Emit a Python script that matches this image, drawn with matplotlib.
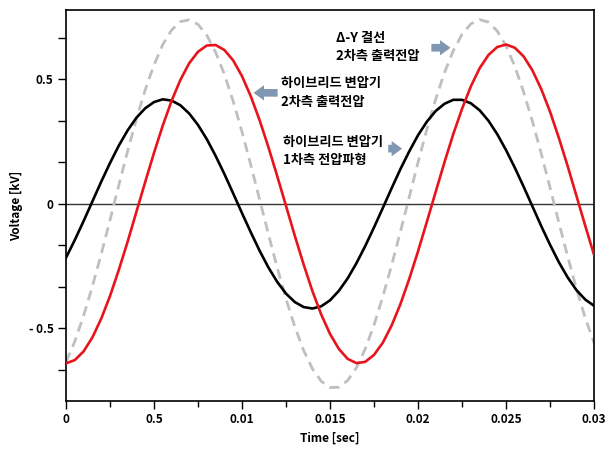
import numpy as np
import matplotlib
matplotlib.use("Agg")
import matplotlib.pyplot as plt

plt.rcParams['font.family'] = ['Noto Sans CJK KR', 'DejaVu Sans']

# 시간축 (0 ~ 0.03 s, 0.0005 s 간격)
tiempo = np.linspace(0, 0.03, 61)

# 하이브리드 변압기 1차측 전압파형 (검정)
v_primario = [-0.216, -0.145, -0.069, 0.010, 0.089, 0.164, 0.234, 0.295, 0.346, 0.384,
              0.409, 0.420, 0.415, 0.396, 0.363, 0.317, 0.260, 0.193, 0.120, 0.042,
              -0.037, -0.114, -0.188, -0.255, -0.313, -0.360, -0.394, -0.414, -0.420, -0.411,
              -0.387, -0.349, -0.299, -0.238, -0.169, -0.094, -0.016, 0.063, 0.140, 0.211,
              0.276, 0.330, 0.373, 0.402, 0.418, 0.418, 0.404, 0.376, 0.334, 0.280,
              0.216, 0.145, 0.069, -0.010, -0.089, -0.164, -0.234, -0.295, -0.346, -0.384,
              -0.409]

# 하이브리드 변압기 2차측 출력전압 (빨강)
v_hibrido = [-0.640, -0.627, -0.592, -0.536, -0.461, -0.370, -0.265, -0.152, -0.032, 0.088,
             0.205, 0.315, 0.414, 0.498, 0.565, 0.611, 0.636, 0.638, 0.618, 0.576,
             0.513, 0.432, 0.336, 0.228, 0.112, -0.008, -0.128, -0.243, -0.350, -0.444,
             -0.522, -0.582, -0.622, -0.639, -0.634, -0.606, -0.557, -0.488, -0.402, -0.301,
             -0.190, -0.072, 0.048, 0.167, 0.280, 0.382, 0.472, 0.545, 0.598, 0.630,
             0.640, 0.627, 0.592, 0.536, 0.461, 0.370, 0.265, 0.152, 0.032, -0.088,
             -0.205]

# Δ-Y 결선 2차측 출력전압 (회색 점선)
v_delta_y = [-0.634, -0.552, -0.449, -0.331, -0.202, -0.065, 0.075, 0.211, 0.341, 0.458,
             0.558, 0.640, 0.698, 0.732, 0.739, 0.721, 0.677, 0.609, 0.520, 0.412,
             0.289, 0.156, 0.018, -0.121, -0.256, -0.381, -0.493, -0.588, -0.662, -0.712,
             -0.737, -0.736, -0.709, -0.657, -0.582, -0.486, -0.372, -0.246, -0.111, 0.028,
             0.167, 0.299, 0.420, 0.527, 0.615, 0.681, 0.723, 0.740, 0.730, 0.694,
             0.634, 0.552, 0.449, 0.331, 0.202, 0.065, -0.075, -0.211, -0.341, -0.458,
             -0.558]

x_ticks = [0, 0.005, 0.01, 0.015, 0.02, 0.025, 0.03]
x_labels = ["0", "0.5", "0.01", "0.015", "0.02", "0.025", "0.03"]
y_ticks = [-4/6, -3/6, -2/6, -1/6, 0, 1/6, 2/6, 3/6, 4/6]
y_labels = ["", "- 0.5", "", "", "0", "", "", "0.5", ""]

fig = plt.figure(figsize=(6.07, 4.5), dpi=100)
ax = fig.add_axes([0.1087, 0.109, 0.87, 0.869])

ax.axhline(0, color='#333333', lw=1.0, zorder=1)
ax.plot(tiempo, v_delta_y, color='#bfbfbf', lw=2.0, dashes=(3.6, 2.3), zorder=2)
ax.plot(tiempo, v_primario, color='black', lw=1.9, zorder=3)
ax.plot(tiempo, v_hibrido, color='#e8141b', lw=1.9, zorder=4)

ax.set_xlim(0, 0.03)
ax.set_ylim(-0.791, 0.779)

ax.set_xticks(x_ticks)
ax.set_xticklabels(x_labels)
ax.set_xticks([0.0025, 0.0075, 0.0125, 0.0175, 0.0225, 0.0275], minor=True)
ax.set_yticks(y_ticks)
ax.set_yticklabels(y_labels)
ax.tick_params(axis='both', which='major', direction='out', length=6, width=1.0,
               labelsize=8.5, pad=3)
ax.tick_params(axis='x', which='minor', direction='out', length=4, width=1.0)
for lbl in ax.get_xticklabels() + ax.get_yticklabels():
    lbl.set_fontweight('bold')

for sp in ax.spines.values():
    sp.set_linewidth(1.2)
    sp.set_color('black')

ax.set_xlabel("Time [sec]", fontsize=8.5, fontweight='bold', labelpad=4)
ax.set_ylabel("Voltage [kV]", fontsize=8.5, fontweight='bold', labelpad=4)

# 주석 (텍스트 + 화살표)
flecha = dict(arrowstyle='simple,head_width=1.1,head_length=0.75,tail_width=0.55',
              fc='#7f97b2', ec='none')
texto = dict(fontsize=9.5, fontweight='bold', va='center', ha='left', linespacing=1.4)

ax.text(0.01220, 0.447, "하이브리드 변압기\n2차측 출력전압", **texto)
ax.annotate('', xy=(0.01050, 0.446), xytext=(0.01218, 0.446), arrowprops=flecha)

ax.text(0.01232, 0.213, "하이브리드 변압기\n1차측 전압파형", **texto)
ax.annotate('', xy=(0.01925, 0.222), xytext=(0.01815, 0.222), arrowprops=flecha)

ax.text(0.01535, 0.63, "Δ-Y 결선\n2차측 출력전압", **texto)
ax.annotate('', xy=(0.02200, 0.627), xytext=(0.02060, 0.627), arrowprops=flecha)

fig.savefig("out.png", dpi=100)
